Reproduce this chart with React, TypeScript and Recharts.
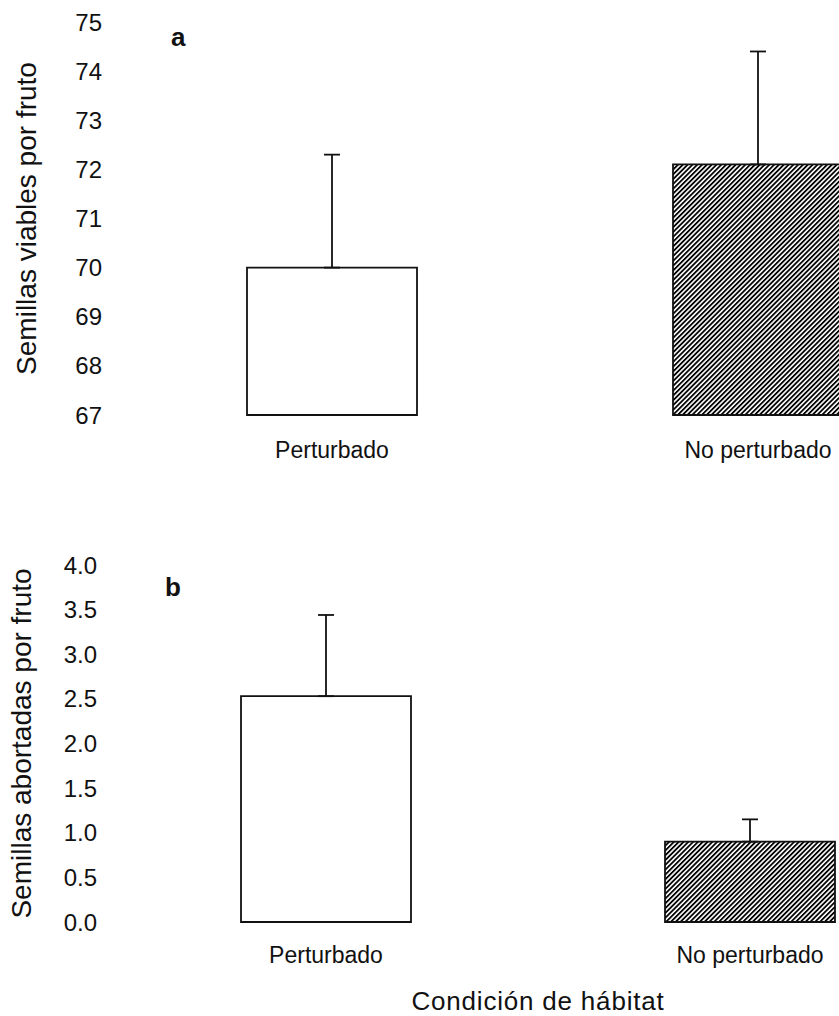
import { BarChart, Bar, XAxis, YAxis, Cell, ErrorBar, Label } from 'recharts';

const habitats = ['Perturbado', 'No perturbado'];
const viablesMean = [70.0, 72.1];
const viablesErr = [2.3, 2.3];
const abortadasMean = [2.53, 0.9];
const abortadasErr = [0.91, 0.25];
const viablesTicks = [67, 68, 69, 70, 71, 72, 73, 74, 75];
const abortadasTicks = [0, 0.5, 1, 1.5, 2, 2.5, 3, 3.5, 4];
const barFills = ['#ffffff', 'url(#hatch)'];

const FONT = '"Liberation Sans", Arial, sans-serif';
const INK = '#111';

const viablesData = habitats.map((h, i) => ({ name: h, value: viablesMean[i], err: [0, viablesErr[i]] }));
const abortadasData = habitats.map((h, i) => ({ name: h, value: abortadasMean[i], err: [0, abortadasErr[i]] }));

const yTitle = (text: string, x: number) => (props: any) => {
    const vb = props.viewBox;
    const cy = vb.y + vb.height / 2;
    return (
        <text x={x} y={cy} transform={`rotate(-90 ${x} ${cy})`} textAnchor="middle" dominantBaseline="central"
            fontFamily={FONT} fontSize={28} fill={INK}>
            {text}
        </text>
    );
};

export default function App() {
    return (
        <div style={{ position: 'absolute', left: 0, top: 0, width: 839, height: 1016, overflow: 'hidden', background: '#fff', fontFamily: FONT }}>
            {/* hatch pattern shared by both charts */}
            <svg width={0} height={0} style={{ position: 'absolute' }}>
                <defs>
                    <pattern id="hatch" patternUnits="userSpaceOnUse" width={3.4} height={3.4} patternTransform="rotate(45)">
                        <rect width={3.4} height={3.4} fill="#fff" />
                        <line x1={0.9} y1={0} x2={0.9} y2={3.4} stroke="#000" strokeWidth={1.8} />
                    </pattern>
                </defs>
            </svg>

            {/* Panel a */}
            <div style={{ position: 'absolute', left: 0, top: 0 }}>
                <BarChart width={1000} height={480} data={viablesData} margin={{ top: 22, right: 29, left: 0, bottom: 5 }} barSize={170}>
                    <XAxis dataKey="name" axisLine={false} tickLine={false} height={60} tickMargin={21}
                        tick={{ fontSize: 23, fill: INK, fontFamily: FONT }} />
                    <YAxis domain={[67, 75]} ticks={viablesTicks} interval={0} axisLine={false} tickLine={false} width={119} tickMargin={11}
                        tick={{ fontSize: 24, fill: INK, fontFamily: FONT }}>
                        <Label content={yTitle('Semillas viables por fruto', 26)} />
                    </YAxis>
                    <Bar dataKey="value" stroke="#111" strokeWidth={1.8} isAnimationActive={false}>
                        {viablesData.map((d, i) => (
                            <Cell key={`a-${i}`} fill={barFills[i]} />
                        ))}
                        <ErrorBar dataKey="err" width={8} stroke="#111" strokeWidth={1.8} />
                    </Bar>
                </BarChart>
            </div>
            <div style={{ position: 'absolute', left: 171, top: 22, fontSize: 26, fontWeight: 'bold', color: INK }}>a</div>

            {/* Panel b */}
            <div style={{ position: 'absolute', left: 0, top: 500 }}>
                <BarChart width={1000} height={516} data={abortadasData} margin={{ top: 65, right: 38, left: 0, bottom: 4 }} barSize={170}>
                    <XAxis dataKey="name" axisLine={false} tickLine={false} height={90} tickMargin={19}
                        tick={{ fontSize: 23, fill: INK, fontFamily: FONT }}>
                        <Label value="Condición de hábitat" position="insideBottom" offset={2}
                            style={{ fontSize: 26, fill: INK, fontFamily: FONT, letterSpacing: 0.8 }} />
                    </XAxis>
                    <YAxis domain={[0, 4]} ticks={abortadasTicks} interval={0} axisLine={false} tickLine={false} width={114} tickMargin={11}
                        tickFormatter={(v: number) => v.toFixed(1)}
                        tick={{ fontSize: 24, fill: INK, fontFamily: FONT }}>
                        <Label content={yTitle('Semillas abortadas por fruto', 21)} />
                    </YAxis>
                    <Bar dataKey="value" stroke="#111" strokeWidth={1.8} isAnimationActive={false}>
                        {abortadasData.map((d, i) => (
                            <Cell key={`b-${i}`} fill={barFills[i]} />
                        ))}
                        <ErrorBar dataKey="err" width={8} stroke="#111" strokeWidth={1.8} />
                    </Bar>
                </BarChart>
            </div>
            <div style={{ position: 'absolute', left: 165, top: 572, fontSize: 26, fontWeight: 'bold', color: INK }}>b</div>
        </div>
    );
}
